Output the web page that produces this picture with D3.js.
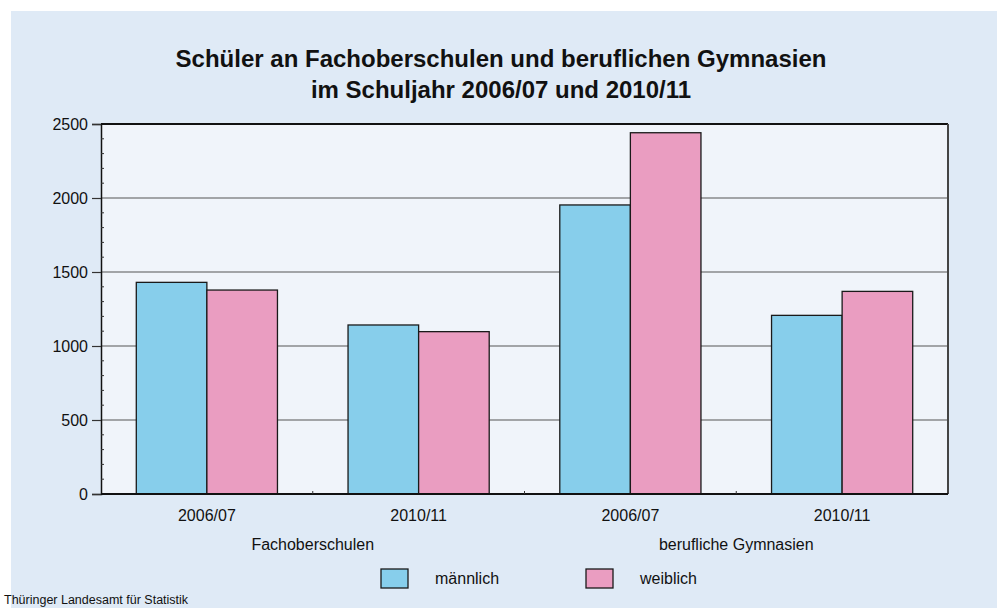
<!DOCTYPE html>
<html><head><meta charset="utf-8">
<script src="https://cdn.jsdelivr.net/npm/d3@7"></script>
<style>body{margin:0;background:#fff;}svg{display:block;font-family:"Liberation Sans",Arial,sans-serif;}</style>
</head><body>
<script>
const categories = ["2006/07", "2010/11", "2006/07", "2010/11"];
const groups = ["Fachoberschulen", "berufliche Gymnasien"];
const seriesNames = ["männlich", "weiblich"];
const maennlich = [1430, 1142, 1953, 1207];
const weiblich = [1378, 1097, 2441, 1369];
const yTicks = [0, 500, 1000, 1500, 2000, 2500];
const colors = ["#87ceeb", "#ea9dc1"];
const title = ["Schüler an Fachoberschulen und beruflichen Gymnasien", "im Schuljahr 2006/07 und 2010/11"];
const source = "Thüringer Landesamt für Statistik";

const W = 997, H = 608;
const svg = d3.select("body").append("svg").attr("width", W).attr("height", H);
svg.append("rect").attr("x", 11).attr("y", 11).attr("width", W - 11).attr("height", H - 11).attr("fill", "#dfeaf6");

const pL = 101, pR = 948, pT = 124, pB = 494;
const x = d3.scaleBand().domain(d3.range(categories.length)).range([pL, pR]).paddingInner(1/3).paddingOuter(1/6);
const xs = d3.scaleBand().domain([0, 1]).range([0, x.bandwidth()]);
const y = d3.scaleLinear().domain([0, 2500]).range([pB, pT]);

svg.append("rect").attr("x", pL).attr("y", pT).attr("width", pR - pL).attr("height", pB - pT).attr("fill", "#f0f4fa");

// gridlines
svg.append("g").selectAll("line").data(yTicks.filter(d => d > 0 && d < 2500)).join("line")
  .attr("x1", pL).attr("x2", pR).attr("y1", d => y(d)).attr("y2", d => y(d))
  .attr("stroke", "#555").attr("stroke-width", 1.2);

// bars
const data = categories.map((c, i) => [maennlich[i], weiblich[i]]);
const g = svg.append("g");
data.forEach((vals, i) => {
  vals.forEach((v, s) => {
    g.append("rect").attr("x", x(i) + xs(s)).attr("y", y(v)).attr("width", xs.bandwidth()).attr("height", y(0) - y(v))
      .attr("fill", colors[s]).attr("stroke", "#1a1a1a").attr("stroke-width", 1.3);
  });
});

// frame
svg.append("line").attr("x1", pL).attr("x2", pR).attr("y1", pT).attr("y2", pT).attr("stroke", "#111").attr("stroke-width", 2);
svg.append("line").attr("x1", pR).attr("x2", pR).attr("y1", pT).attr("y2", pB).attr("stroke", "#444").attr("stroke-width", 2);

// y axis
const yAxis = d3.axisLeft(y).tickValues(yTicks).tickSize(9).tickPadding(4).tickFormat(d3.format("d"));
const ya = svg.append("g").attr("transform", `translate(${pL},0)`).call(yAxis);
ya.select(".domain").attr("stroke", "#111").attr("stroke-width", 1.5);
ya.selectAll(".tick line").attr("stroke", "#333").attr("stroke-width", 1.2);
ya.selectAll("text").attr("font-size", 16).attr("fill", "#111").attr("font-family", "Liberation Sans, Arial, sans-serif");
// minor ticks
svg.append("g").selectAll("line").data(d3.range(0, 2501, 100).filter(d => d % 500 !== 0)).join("line")
  .attr("x1", pL).attr("x2", pL + 3).attr("y1", d => y(d)).attr("y2", d => y(d)).attr("stroke", "#333");

// x axis
svg.append("line").attr("x1", pL).attr("x2", pR).attr("y1", pB).attr("y2", pB).attr("stroke", "#111").attr("stroke-width", 2);
svg.append("g").selectAll("line").data(d3.range(1, categories.length)).join("line")
  .attr("x1", d => pL + d * (pR - pL) / categories.length).attr("x2", d => pL + d * (pR - pL) / categories.length)
  .attr("y1", pB).attr("y2", pB - 3).attr("stroke", "#333");
svg.append("g").selectAll("text").data(categories).join("text")
  .attr("x", (d, i) => x(i) + x.bandwidth() / 2).attr("y", 521).attr("text-anchor", "middle")
  .attr("font-size", 16).attr("fill", "#111").text(d => d);
svg.append("g").selectAll("text").data(groups).join("text")
  .attr("x", (d, i) => (x(2 * i) + x(2 * i + 1) + x.bandwidth()) / 2).attr("y", 550).attr("text-anchor", "middle")
  .attr("font-size", 16).attr("fill", "#111").text(d => d);

// title
svg.append("g").selectAll("text").data(title).join("text")
  .attr("x", 501).attr("y", (d, i) => 67 + i * 31).attr("text-anchor", "middle")
  .attr("font-size", 24).attr("font-weight", "bold").attr("fill", "#111").text(d => d);

// legend
const legX = [381, 586];
seriesNames.forEach((n, i) => {
  svg.append("rect").attr("x", legX[i]).attr("y", 569).attr("width", 27).attr("height", 19)
    .attr("fill", colors[i]).attr("stroke", "#1a1a1a").attr("stroke-width", 1.3);
  svg.append("text").attr("x", legX[i] + 54).attr("y", 584).attr("font-size", 16).attr("fill", "#111").text(n);
});

// source
svg.append("text").attr("x", 4).attr("y", 604).attr("font-size", 12.5).attr("fill", "#111").text(source);
</script>
</body></html>
